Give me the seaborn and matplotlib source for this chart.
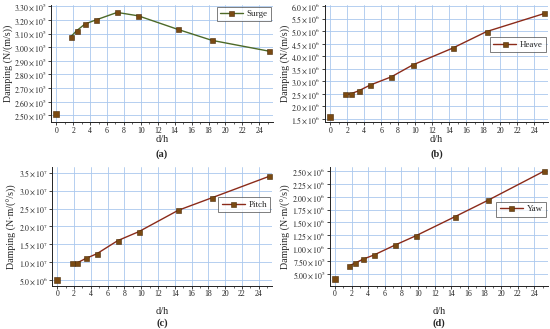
import matplotlib
matplotlib.use("Agg")
import matplotlib.pyplot as plt
import seaborn as sns
import numpy as np
import pandas as pd
from matplotlib.ticker import FixedLocator, FuncFormatter, MultipleLocator

sns.set_theme(style="ticks")
plt.rcParams['font.family'] = ['Liberation Serif', 'DejaVu Serif']
plt.rcParams['mathtext.fontset'] = 'stix'

d_h = [0, 1.7, 2.4, 3.4, 4.7, 7.2, 9.7, 14.4, 18.4, 25.2]
surge = [2.51e5, 3.075e5, 3.12e5, 3.17e5, 3.20e5, 3.255e5, 3.23e5, 3.13e5, 3.05e5, 2.97e5]
heave = [1.58e6, 2.48e6, 2.50e6, 2.63e6, 2.85e6, 3.18e6, 3.65e6, 4.32e6, 4.98e6, 5.70e6]
pitch = [5.0e6, 9.6e6, 9.8e6, 1.10e7, 1.23e7, 1.60e7, 1.85e7, 2.45e7, 2.80e7, 3.40e7]
yaw = [4.0e5, 6.6e5, 7.1e5, 7.9e5, 8.7e5, 1.06e6, 1.24e6, 1.61e6, 1.93e6, 2.50e6]

surge_ticks = [2.50e5, 2.60e5, 2.70e5, 2.80e5, 2.90e5, 3.00e5, 3.10e5, 3.20e5, 3.30e5]
heave_ticks = [1.5e6, 2.0e6, 2.5e6, 3.0e6, 3.5e6, 4.0e6, 4.5e6, 5.0e6, 5.5e6, 6.0e6]
pitch_ticks = [5.0e6, 1.0e7, 1.5e7, 2.0e7, 2.5e7, 3.0e7, 3.5e7]
yaw_ticks = [5.0e5, 7.5e5, 1.0e6, 1.25e6, 1.5e6, 1.75e6, 2.0e6, 2.25e6, 2.5e6]

x_ticks = list(range(0, 26, 2))

panels = [
    dict(name="Surge", y=surge, ticks=surge_ticks, dec=2, ylim=(2.45e5, 3.31e5),
         ylabel="Damping (N/(m/s))", tag="(a)", rect=[0.093, 0.629, 0.403, 0.356],
         line="#4d6a28", legloc=(1.0, 1.0), tagy=154, xly=139),
    dict(name="Heave", y=heave, ticks=heave_ticks, dec=1, ylim=(1.38e6, 6.04e6),
         ylabel="Damping (N/(m/s))", tag="(b)", rect=[0.591, 0.629, 0.405, 0.356],
         line="#8b2b1a", legloc=(1.0, 0.74), tagy=154, xly=139),
    dict(name="Pitch", y=pitch, ticks=pitch_ticks, dec=1, ylim=(3.3e6, 3.67e7),
         ylabel="Damping (N·m/(°/s))", tag="(c)", rect=[0.095, 0.131, 0.40, 0.362],
         line="#8b2b1a", legloc=(1.0, 0.76), tagy=323, xly=311),
    dict(name="Yaw", y=yaw, ticks=yaw_ticks, dec=2, ylim=(2.7e5, 2.58e6),
         ylabel="Damping (N·m/(°/s))", tag="(d)", rect=[0.600, 0.131, 0.396, 0.362],
         line="#8b2b1a", legloc=(1.0, 0.72), tagy=323, xly=311),
]

marker_face = "#7a4a12"
marker_edge = "#4a2a08"

fig = plt.figure(figsize=(5.5, 3.29), dpi=100)
H = 329.0


def make_fmt(dec):
    def f(v, pos):
        if v == 0:
            return "0"
        e = int(np.floor(np.log10(abs(v)) + 1e-9))
        m = v / 10 ** e
        return r"$%.*f\times10^{%d}$" % (dec, m, e)
    return f


for p in panels:
    ax = fig.add_axes(p["rect"])
    df = pd.DataFrame({"d/h": d_h[1:], "val": p["y"][1:]})
    sns.lineplot(data=df, x="d/h", y="val", ax=ax, color=p["line"], lw=1.0,
                 marker="s", markersize=3.6, markerfacecolor=marker_face,
                 markeredgecolor=marker_edge, markeredgewidth=0.4,
                 label=p["name"], zorder=3)
    df0 = pd.DataFrame({"d/h": d_h[:1], "val": p["y"][:1]})
    sns.scatterplot(data=df0, x="d/h", y="val", ax=ax, marker="s", s=13,
                    color=marker_face, edgecolor=marker_edge, linewidth=0.4,
                    zorder=4, legend=False)
    ax.set_xlim(-0.6, 25.6)
    ax.set_ylim(*p["ylim"])
    ax.xaxis.set_major_locator(FixedLocator(x_ticks))
    ax.xaxis.set_minor_locator(MultipleLocator(1))
    ax.yaxis.set_major_locator(FixedLocator(p["ticks"]))
    ax.yaxis.set_major_formatter(FuncFormatter(make_fmt(p["dec"])))
    ax.grid(True, which="major", color="#a9c8ee", lw=0.6)
    ax.set_axisbelow(True)
    for s in ["top", "right"]:
        ax.spines[s].set_visible(False)
    for s in ["left", "bottom"]:
        ax.spines[s].set_linewidth(0.7)
        ax.spines[s].set_color("#222222")
    ax.tick_params(axis="both", which="major", labelsize=5.6, length=2.2, width=0.6,
                   pad=1.0, colors="#222222")
    ax.tick_params(axis="x", which="minor", length=1.4, width=0.5)
    ax.set_xlabel("")
    ax.set_ylabel(p["ylabel"], fontsize=7.2, labelpad=0.8)
    cx = p["rect"][0] + p["rect"][2] / 2
    fig.text(cx, 1 - p["xly"] / H, "d/h", ha="center", va="center", fontsize=7.5)
    fig.text(cx, 1 - p["tagy"] / H, p["tag"], ha="center", va="center",
             fontsize=7.5, fontweight="bold")
    leg = ax.legend(loc="upper right", bbox_to_anchor=p["legloc"], fontsize=6.5,
                    frameon=True, fancybox=False, handlelength=2.6,
                    borderpad=0.35, handletextpad=0.4, borderaxespad=0.2)
    leg.get_frame().set_edgecolor("#444444")
    leg.get_frame().set_linewidth(0.6)

fig.savefig("out.png", dpi=100)
